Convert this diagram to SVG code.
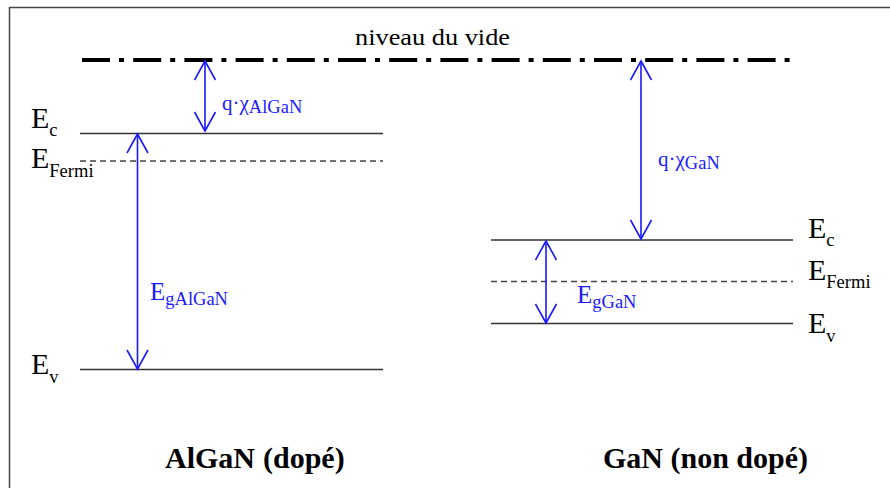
<svg xmlns="http://www.w3.org/2000/svg" width="890" height="488" viewBox="0 0 890 488">
  <style>
    text { font-family: "Liberation Serif", "DejaVu Serif", serif; }
    .t { fill: #000; }
    .b { font-weight: bold; fill: #000; }
    .blue { fill: #1a1aff; }
    .lvl { stroke: #333; stroke-width: 1.5; fill: none; }
    .fermi { stroke: #444; stroke-width: 1.5; stroke-dasharray: 6 4; fill: none; }
    .vac { stroke: #000; stroke-width: 4; stroke-dasharray: 28 9 5 9.2; fill: none; }
    .arr { stroke: #1a1aff; stroke-width: 1.6; fill: none; marker-start: url(#ah); marker-end: url(#ah); }
  </style>
  <defs>
    <marker id="ah" markerUnits="userSpaceOnUse" markerWidth="24" markerHeight="24" viewBox="-1 -1 22 24" refX="19" refY="10.5" orient="auto-start-reverse">
      <path d="M0,0 L19,10.5 L0,21" fill="none" stroke="#1a1aff" stroke-width="1.6"/>
    </marker>
  </defs>
  <rect width="890" height="488" fill="#fff"/>
  <path d="M9.5,488 V7.5 H890" fill="none" stroke="#444" stroke-width="1.5"/>

  <g id="vacuum">
    <line class="vac" x1="82" y1="60" x2="792" y2="60"/>
    <text class="t" x="355" y="45" font-size="23" textLength="155" lengthAdjust="spacingAndGlyphs">niveau du vide</text>
  </g>

  <g id="algan">
    <line id="algan-ec" class="lvl" x1="80" y1="133.5" x2="383" y2="133.5"/>
    <line id="algan-ef" class="fermi" x1="80" y1="161" x2="383" y2="161"/>
    <line id="algan-ev" class="lvl" x1="80" y1="369.5" x2="383" y2="369.5"/>
    <text class="t" x="31" y="128" font-size="30">E<tspan font-size="18.5" dy="8">c</tspan></text>
    <text class="t" x="31" y="168" font-size="30">E<tspan font-size="18.5" dy="9">Fermi</tspan></text>
    <text class="t" x="31" y="374" font-size="30">E<tspan font-size="18.5" dy="9">v</tspan></text>
    <text class="b" x="165" y="468" font-size="30">AlGaN<tspan dx="8">(dopé)</tspan></text>
  </g>

  <g id="gan">
    <line id="gan-ec" class="lvl" x1="491" y1="240" x2="793" y2="240"/>
    <line id="gan-ef" class="fermi" x1="491" y1="281.5" x2="793" y2="281.5"/>
    <line id="gan-ev" class="lvl" x1="491" y1="323.5" x2="793" y2="323.5"/>
    <text class="t" x="808" y="238" font-size="30">E<tspan font-size="18.5" dy="8">c</tspan></text>
    <text class="t" x="808" y="280" font-size="30">E<tspan font-size="18.5" dy="8">Fermi</tspan></text>
    <text class="t" x="808" y="333" font-size="30">E<tspan font-size="18.5" dy="9">v</tspan></text>
    <text class="b" x="603" y="468" font-size="30">GaN (non dopé)</text>
  </g>

  <g id="connectors">
    <line class="arr" x1="205" y1="61" x2="205" y2="131"/>
    <line class="arr" x1="137.5" y1="134" x2="137.5" y2="369"/>
    <line class="arr" x1="641" y1="61" x2="641" y2="239"/>
    <line class="arr" x1="546" y1="241" x2="546" y2="323"/>
  </g>

  <g id="labels">
    <text class="blue" x="222" y="110" font-size="21">q·χ<tspan font-size="18.5" dy="3">AlGaN</tspan></text>
    <text class="blue" x="658" y="166" font-size="21">q·χ<tspan font-size="18.5" dy="3">GaN</tspan></text>
    <text class="blue" x="150" y="300" font-size="25">E<tspan font-size="18.5" dy="5">gAlGaN</tspan></text>
    <text class="blue" x="577" y="303" font-size="25">E<tspan font-size="18.5" dy="5">gGaN</tspan></text>
  </g>
</svg>
